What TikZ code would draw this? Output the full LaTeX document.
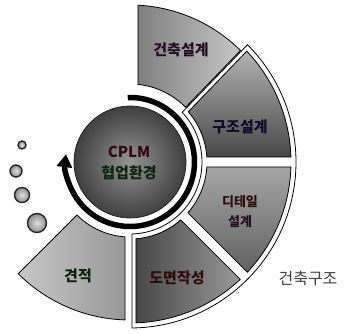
\documentclass[tikz,border=0pt]{standalone}
\usepackage{fontspec}
\newfontfamily\kr{Noto Sans CJK KR}
\usetikzlibrary{arrows.meta}
\definecolor{inkb}{RGB}{12,12,40}
\definecolor{inkr}{RGB}{48,12,12}
\definecolor{inkg}{RGB}{12,36,12}
\definecolor{inkp}{RGB}{38,12,38}
% annular segment with edges offset parallel to the radial boundary lines
\newcommand\seg[7]{%
  \pgfmathsetmacro\segA{#1+asin(#5/#3)}%
  \pgfmathsetmacro\segB{#1+asin(#5/#4)}%
  \pgfmathsetmacro\segC{#2-asin(#6/#4)}%
  \pgfmathsetmacro\segD{#2-asin(#6/#3)}%
  \path[#7] (\segA:#3) -- (\segB:#4) arc[start angle=\segB, end angle=\segC, radius=#4]
     -- (\segD:#3) arc[start angle=\segD, end angle=\segA, radius=#3] -- cycle;}
\begin{document}
\begin{tikzpicture}[x=1pt,y=1pt,
  lbl/.style={font=\kr\bfseries\fontsize{15}{16}\selectfont, inner sep=0pt, text=inkr},
  slbl/.style={font=\kr\bfseries\fontsize{13}{14}\selectfont, inner sep=0pt, text=inkr},
  edge/.style={draw=black, line width=0.8pt},
  dot/.style={circle, draw=black!85, line width=1.4pt, inner sep=0pt, shade, inner color=black!12, outer color=black!45}]
\useasboundingbox (0,0) rectangle (348,333);
\fill[white] (0,0) rectangle (348,333);
\begin{scope}[shift={(130,171)}]
  % group outline of the three structural segments
  \seg{-90}{46}{72}{166}{2}{3}{fill=white, edge}
  % segments
  \seg{46}{90}{78}{157}{-2}{8}{edge, left color=black!50, right color=black!22}
  \seg{0}{46}{77}{161}{5}{7}{edge, top color=black!30, bottom color=black!72}
  \seg{-45}{0}{77}{161}{5}{5}{edge, top color=black!35, bottom color=black!62}
  \seg{-90}{-45}{77}{161}{6}{5}{edge, left color=black!72, right color=black!40}
  \seg{-135}{-90}{75}{158}{0}{5}{edge, left color=black!22, right color=black!40}
  % circular arrow
  \draw[line width=5.5pt, -{Triangle[length=13pt,width=15pt]}]
     (92:64.5) arc[start angle=92, end angle=-187, radius=64.5];
\end{scope}
% hub
\node[circle, minimum size=112pt, inner sep=0pt, draw=black!85, line width=0.8pt,
      shade, inner color=black!42, outer color=black!75] (hub) at (130,171) {};
\node[lbl, text=inkr] (cplm) at (129,181) {CPLM};
\node[lbl, text=inkg] (hyup) at (129,160) {협업환경};
% labels
\node[lbl, text=inkp] (a1) at (181,283) {건축설계};
\node[lbl, text=inkb] (a2) at (240,206) {구조설계};
\node[slbl, text=inkr] (a3) at (240,131) {디테일};
\node[slbl, text=inkp] (a3b) at (240,111) {설계};
\node[lbl, text=inkr] (a4) at (177,55) {도면작성};
\node[lbl, text=inkg] (a5) at (78,57) {견적};
\node[font=\kr\fontsize{16}{17}\selectfont, text=black!75, inner sep=0pt] (grp) at (308,55) {건축구조};
% small circles
\node[dot, minimum size=8pt] (d1) at (22,188) {};
\node[dot, minimum size=12pt] (d2) at (16,162) {};
\node[dot, minimum size=15pt] (d3) at (22,138) {};
\node[dot, minimum size=19pt] (d4) at (37,110) {};
\end{tikzpicture}
\end{document}
